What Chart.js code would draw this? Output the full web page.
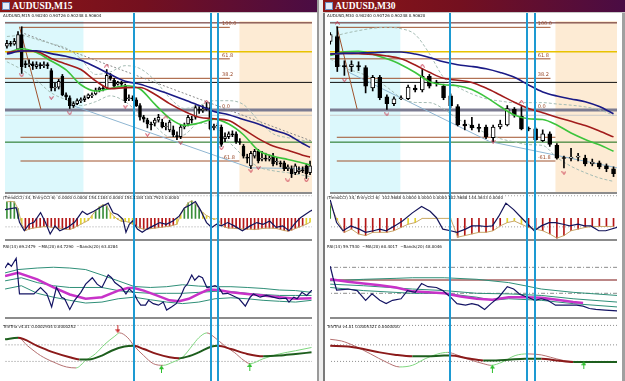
<!DOCTYPE html>
<html>
<head>
<meta charset="utf-8">
<title>AUDUSD M15 / M30</title>
<script src="https://cdn.jsdelivr.net/npm/chart.js@4.4.1/dist/chart.umd.min.js"></script>
<style>
html,body{margin:0;padding:0;width:625px;height:381px;overflow:hidden;background:#fff;}
.tb{position:absolute;top:0;height:12px;background:linear-gradient(90deg,#8c1616 0%,#74101f 45%,#4a0c44 100%);border-bottom:1px solid #c8c8c8;}
.tb span{position:absolute;left:12px;top:0px;color:#fff;font:bold 9.5px "Liberation Serif","DejaVu Serif",serif;line-height:12px;}
.ico{position:absolute;left:2px;top:2px;width:6px;height:6px;background:#e4ecf8;border:1px solid #6d8fc4;}
.hdr{position:absolute;font:4px "DejaVu Sans",sans-serif;color:#111;white-space:nowrap;line-height:5px;}
canvas{position:absolute;}
</style>
</head>
<body>
<div class="tb" style="left:0;width:318px"><div class="ico"></div><span>AUDUSD,M15</span></div>
<div class="tb" style="left:323px;width:302px"><div class="ico"></div><span>AUDUSD,M30</span></div>
<canvas id="cL" width="317" height="368" style="left:0;top:13px"></canvas>
<canvas id="cR" width="297" height="368" style="left:325px;top:13px"></canvas>
<div style="position:absolute;left:317px;top:0;width:2px;height:381px;background:#9a9a9a"></div>
<div style="position:absolute;left:319px;top:0;width:4px;height:381px;background:#eeeeee"></div>
<div style="position:absolute;left:323px;top:13px;width:2px;height:368px;background:#7a7a7a"></div>
<div style="position:absolute;left:622px;top:13px;width:3px;height:368px;background:#a0a0a0"></div>

<div class="hdr" style="left:3px;top:13px">AUDUSD,M15 0.90240 0.90726 0.90248 0.90604</div>
<div class="hdr" style="left:3px;top:195px">(TrendCCI) 34, EntryCCI 6)&nbsp; 0.0000 0.0000 154.1184 0.0000 154.1184 183.7924 0.0000</div>
<div class="hdr" style="left:3px;top:244px">RSI(14) 69.2479 &nbsp;~MA(20) 64.7290 &nbsp;~Bands(20) 63.0284</div>
<div class="hdr" style="left:3px;top:324px">TriVTrix v4.01 0.0002934 0.0000252</div>
<div class="hdr" style="left:327px;top:13px">AUDUSD,M30 0.90240 0.90726 0.90248 0.90620</div>
<div class="hdr" style="left:327px;top:195px">(TrendCCI) 34, EntryCCI 6)&nbsp; 102.5688 0.0000 0.0000 0.0000 102.5688 144.3633 0.0000</div>
<div class="hdr" style="left:327px;top:244px">RSI(14) 59.7530 &nbsp;~MA(20) 60.4017 &nbsp;~Bands(20) 48.0046</div>
<div class="hdr" style="left:327px;top:324px">TriVTrix v4.01 0.0005321 0.0000000</div>

<script>
// ================= DATA =================
// ---- M15 candles ----
const m15Open = [0.90790,0.90805,0.90800,0.90775,0.90850,0.90700,0.90695,0.90700,0.90685,0.90695,
0.90690,0.90695,0.90665,0.90575,0.90580,0.90635,0.90540,0.90525,0.90485,0.90495,
0.90510,0.90515,0.90525,0.90535,0.90545,0.90565,0.90575,0.90575,0.90635,0.90615,
0.90595,0.90600,0.90585,0.90520,0.90525,0.90515,0.90485,0.90425,0.90410,0.90390,
0.90395,0.90410,0.90400,0.90375,0.90360,0.90360,0.90330,0.90325,0.90375,0.90390,
0.90415,0.90425,0.90465,0.90460,0.90465,0.90475,0.90370,0.90380,0.90375,0.90315,
0.90325,0.90340,0.90340,0.90300,0.90275,0.90220,0.90175,0.90225,0.90250,0.90210,
0.90215,0.90210,0.90225,0.90195,0.90190,0.90190,0.90160,0.90160,0.90140,0.90145,
0.90155,0.90175,0.90140];
const m15Close = [0.90805,0.90800,0.90815,0.90850,0.90685,0.90695,0.90700,0.90690,0.90695,0.90690,
0.90695,0.90690,0.90575,0.90580,0.90610,0.90540,0.90530,0.90485,0.90495,0.90510,
0.90515,0.90525,0.90540,0.90540,0.90565,0.90575,0.90570,0.90640,0.90625,0.90585,
0.90600,0.90595,0.90510,0.90525,0.90520,0.90485,0.90425,0.90415,0.90390,0.90385,
0.90410,0.90425,0.90375,0.90380,0.90400,0.90335,0.90325,0.90375,0.90380,0.90425,
0.90410,0.90475,0.90460,0.90465,0.90475,0.90365,0.90380,0.90385,0.90285,0.90325,
0.90340,0.90335,0.90300,0.90295,0.90225,0.90215,0.90240,0.90250,0.90200,0.90215,
0.90210,0.90215,0.90185,0.90200,0.90185,0.90160,0.90170,0.90135,0.90175,0.90155,
0.90150,0.90135,0.90175];
const m15High = [0.90820,0.90815,0.90830,0.90865,0.90890,0.90715,0.90720,0.90710,0.90710,0.90705,
0.90710,0.90705,0.90675,0.90600,0.90620,0.90645,0.90550,0.90535,0.90505,0.90520,
0.90525,0.90535,0.90545,0.90550,0.90575,0.90580,0.90585,0.90670,0.90650,0.90625,
0.90610,0.90610,0.90595,0.90540,0.90535,0.90525,0.90495,0.90435,0.90420,0.90400,
0.90420,0.90440,0.90415,0.90395,0.90410,0.90380,0.90350,0.90385,0.90395,0.90435,
0.90430,0.90485,0.90480,0.90485,0.90500,0.90500,0.90390,0.90395,0.90385,0.90345,
0.90350,0.90355,0.90350,0.90315,0.90285,0.90235,0.90250,0.90260,0.90260,0.90250,
0.90240,0.90230,0.90240,0.90215,0.90200,0.90200,0.90180,0.90175,0.90185,0.90170,
0.90170,0.90185,0.90200];
const m15Low = [0.90780,0.90790,0.90795,0.90770,0.90650,0.90680,0.90685,0.90670,0.90675,0.90675,
0.90680,0.90675,0.90560,0.90560,0.90570,0.90535,0.90515,0.90470,0.90475,0.90490,
0.90500,0.90505,0.90520,0.90525,0.90540,0.90555,0.90560,0.90570,0.90615,0.90575,
0.90590,0.90585,0.90500,0.90510,0.90510,0.90480,0.90410,0.90400,0.90370,0.90360,
0.90380,0.90400,0.90370,0.90360,0.90350,0.90325,0.90310,0.90315,0.90365,0.90380,
0.90395,0.90415,0.90445,0.90450,0.90460,0.90360,0.90360,0.90365,0.90275,0.90300,
0.90315,0.90325,0.90290,0.90285,0.90215,0.90190,0.90160,0.90215,0.90190,0.90200,
0.90200,0.90200,0.90175,0.90180,0.90170,0.90150,0.90150,0.90115,0.90130,0.90135,
0.90140,0.90110,0.90130];

// ---- M30 candles ----
const m30Open = [0.90815,0.90840,0.90690,0.90685,0.90690,0.90680,0.90575,0.90630,0.90530,0.90495,
0.90520,0.90520,0.90575,0.90565,0.90635,0.90600,0.90585,0.90535,0.90480,0.90390,
0.90385,0.90370,0.90375,0.90320,0.90375,0.90385,0.90465,0.90430,0.90365,0.90365,
0.90305,0.90340,0.90280,0.90215,0.90215,0.90220,0.90215,0.90185,0.90190,0.90175,0.90160];
const m30Close = [0.90850,0.90685,0.90685,0.90695,0.90683,0.90585,0.90630,0.90525,0.90495,0.90520,
0.90523,0.90580,0.90565,0.90635,0.90585,0.90598,0.90525,0.90485,0.90385,0.90380,
0.90370,0.90368,0.90325,0.90375,0.90390,0.90470,0.90435,0.90365,0.90363,0.90310,
0.90340,0.90285,0.90215,0.90213,0.90218,0.90223,0.90185,0.90195,0.90170,0.90160,0.90135];
const m30High = [0.90860,0.90890,0.90715,0.90715,0.90710,0.90690,0.90640,0.90640,0.90540,0.90530,
0.90535,0.90590,0.90590,0.90675,0.90645,0.90615,0.90595,0.90545,0.90490,0.90410,
0.90425,0.90390,0.90385,0.90385,0.90410,0.90485,0.90475,0.90480,0.90375,0.90370,
0.90360,0.90350,0.90290,0.90225,0.90265,0.90240,0.90230,0.90210,0.90200,0.90185,0.90170];
const m30Low = [0.90800,0.90660,0.90640,0.90660,0.90665,0.90550,0.90560,0.90515,0.90465,0.90485,
0.90515,0.90515,0.90555,0.90555,0.90575,0.90585,0.90515,0.90475,0.90380,0.90360,
0.90360,0.90350,0.90315,0.90300,0.90365,0.90380,0.90425,0.90360,0.90355,0.90305,
0.90300,0.90275,0.90210,0.90165,0.90200,0.90200,0.90175,0.90175,0.90160,0.90145,0.90120];

// ---- moving averages / envelopes (bar index, price) ----
const m15MaIdx = [0,4,8,12,16,20,24,28,32,36,40,44,48,52,56,60,64,68,72,76,80,82];
const m15MaBlue = [0.90750,0.90765,0.90767,0.90752,0.90738,0.90718,0.90683,0.90645,0.90610,0.90595,0.90570,0.90543,0.90515,0.90485,0.90455,0.90438,0.90413,0.90390,0.90360,0.90335,0.90290,0.90270];
const m15MaRed = [0.90758,0.90767,0.90763,0.90727,0.90698,0.90670,0.90612,0.90572,0.90577,0.90578,0.90543,0.90495,0.90455,0.90425,0.90417,0.90408,0.90363,0.90315,0.90277,0.90255,0.90230,0.90220];
const m15MaGreen = [0.90755,0.90777,0.90758,0.90714,0.90668,0.90592,0.90560,0.90573,0.90587,0.90570,0.90492,0.90420,0.90383,0.90395,0.90415,0.90390,0.90335,0.90255,0.90225,0.90208,0.90190,0.90180];
const m15BbIdx = [0,4,8,12,16,20,24,28,32,36,40,44,48,52,56,60,64,68,72,76,82];
const m15BbUpper = [0.90840,0.90845,0.90825,0.90803,0.90780,0.90725,0.90645,0.90658,0.90690,0.90675,0.90615,0.90525,0.90470,0.90485,0.90510,0.90510,0.90490,0.90410,0.90340,0.90320,0.90300];
const m15BbLower = [0.90710,0.90670,0.90615,0.90550,0.90515,0.90485,0.90505,0.90535,0.90505,0.90440,0.90380,0.90325,0.90335,0.90395,0.90380,0.90300,0.90225,0.90170,0.90150,0.90140,0.90120];

const m30MaIdx = [0,2,4,6,8,10,12,14,16,18,20,22,24,26,28,30,32,34,36,38,40];
const m30MaBlue = [0.90750,0.90753,0.90755,0.90757,0.90760,0.90760,0.90750,0.90732,0.90710,0.90695,0.90686,0.90674,0.90655,0.90630,0.90591,0.90555,0.90534,0.90519,0.90505,0.90480,0.90443];
const m30MaRed = [0.90750,0.90753,0.90751,0.90748,0.90740,0.90725,0.90693,0.90656,0.90625,0.90615,0.90604,0.90575,0.90539,0.90502,0.90470,0.90448,0.90425,0.90404,0.90382,0.90354,0.90324];
const m30MaGreen = [0.90742,0.90761,0.90764,0.90749,0.90725,0.90695,0.90655,0.90608,0.90592,0.90587,0.90567,0.90528,0.90480,0.90436,0.90417,0.90413,0.90385,0.90344,0.90311,0.90283,0.90250];
const m30BbUpper = [0.90835,0.90855,0.90870,0.90882,0.90887,0.90880,0.90850,0.90752,0.90630,0.90580,0.90545,0.90520,0.90508,0.90500,0.90500,0.90500,0.90493,0.90487,0.90478,0.90463,0.90435];
const m30BbLower = [0.90725,0.90678,0.90655,0.90625,0.90580,0.90525,0.90501,0.90500,0.90468,0.90417,0.90380,0.90343,0.90315,0.90298,0.90284,0.90280,0.90218,0.90173,0.90140,0.90113,0.90095];

// ---- trend lines [bar index, price] ----
const m15TrendBrown = [[3.4,0.90890],[9.2,0.90465]];
const m15TrendBlue = [[17,0.90490],[65.8,0.90165],[82.6,0.90160]];
const m15TrendDotted = [[4.7,0.90855],[82.8,0.90300]];
const m30TrendBrown = [[0.93,0.90892],[3.8,0.90467]];
const m30TrendBlue = [[2.4,0.90660],[22.5,0.90300],[40.5,0.90165]];

// ---- fractal markers [bar index, price] ----
const m15Downs = [[4,0.90640],[12,0.90525],[17,0.90445],[32,0.90480],[38,0.90335],[47,0.90295],[58,0.90265],[66,0.90150],[68,0.90165],[76,0.90100],[81,0.90100]];
const m15Ups = [[27,0.90690],[43,0.90425],[54,0.90505]];
const m30Downs = [[2,0.90615],[8,0.90440],[23,0.90300],[33,0.90140]];
const m30Ups = [[1,0.90910],[13,0.90690],[27,0.90505]];

// ---- horizontal levels ----
const fibLevels = [0.90887,0.90725,0.90625,0.90462,0.90200];
const fibLabels = ['100.0','61.8','38.2','0.0','-61.8'];
const guideLevels = [0.90910,0.90762,0.90604,0.90435,0.90322,0.90297];

// ---- time markers (bar index) ----
const m15VLines = [34.3,55.3,57.1];
const m30VLines = [16.9,27.8,28.9];
const m15Sessions = [[-2,20.7],[62.9,90]];
const m30Sessions = [[-2,9.9],[31.8,45]];

// ---- TrendCCI ----
const cciLevels = [233,-87];
const m15CciHist = [170,175,170,100,-60,-125,-110,-100,-95,-90,
-85,-85,-90,-95,-100,-105,-110,-115,-100,-80,
-60,-40,-20,30,80,120,140,130,60,20,
-10,-30,-30,-40,-60,-80,-100,-110,-110,-105,
-100,-95,-90,-85,-80,-70,-60,40,100,160,
180,150,100,60,30,10,-10,0,-70,-90,
-100,-100,-105,-105,-110,-110,-110,-115,-110,-105,
-100,-100,-100,-105,-115,-125,-130,-120,-105,-90,
-75,-60,-40];
const m15CciLine = [[-0.5,90],[2.5,110],[3.4,-40],[4.7,-127],[6,-60],[7.3,-40],[9.1,60],[10.4,-40],[11.7,-160],[13,-77],[14.3,-127],[16.5,-90],[18.3,-40],[20.4,73],[21.7,40],[23.5,73],[25.7,123],[27.4,157],[28.7,57],[30,40],[31.4,-10],[32.2,-143],[33.1,-60],[34,-27],[35.3,-110],[36.6,-143],[37.9,-110],[39.6,-77],[41.4,-43],[43.1,-60],[44.9,-27],[46.6,23],[48,107],[49.7,140],[51,173],[52.3,90],[54,-43],[55.4,-93],[56.7,-60],[58,-77],[59.7,-43],[61.5,-77],[63.7,-127],[65.8,-77],[67.6,-43],[69.3,-60],[71.1,-27],[72.8,-93],[74.6,-77],[76.3,-127],[78.1,-43],[79.4,7],[80.7,40],[82,73],[82.8,90]];
const m30CciHist = [150,-20,-143,-110,-160,-177,-143,-143,-143,-127,
-93,-60,-43,0,0,0,0,0,-193,-177,
-160,-143,-143,-127,-77,-43,-27,-60,-93,-110,
-127,-160,-203,-177,-127,-110,-93,-83,-83,-83,-83];
const m30CciLine = [[0,190],[0.9,-43],[1.8,-127],[2.9,-77],[4.1,-110],[5,-143],[6.1,-127],[7,-110],[7.9,-127],[9.1,-77],[10.2,-27],[11.6,57],[12.9,123],[14.1,73],[15,7],[15.9,-110],[17,-127],[17.9,-143],[19.1,-110],[20,-77],[21.1,-77],[22,-83],[22.9,-77],[23.8,23],[24.8,157],[25.9,90],[27,7],[27.9,-60],[28.8,-127],[29.8,-77],[30.9,-43],[31.8,-43],[32.9,-60],[33.8,-77],[35,-60],[35.9,-77],[36.8,-77],[37.9,-127],[38.9,-127],[40.5,-93]];

// ---- RSI ----
const m15Rsi = [[-0.5,85.5],[0.3,88],[1.2,86.4],[2.5,90.5],[3.4,72.2],[7.3,72.2],[9.1,75.5],[10.8,72.2],[12.1,65.5],[13.4,75.5],[14.8,70.5],[15.6,69.7],[17,64.2],[18.3,68.9],[20,73],[21.3,77.2],[23.1,80.5],[24.4,77.2],[25.7,75.5],[27.4,81.9],[28.3,80.5],[29.2,78],[31,75.5],[32.2,72.2],[33.1,74.7],[34.4,72.5],[35.3,68.9],[36.2,66.4],[37.5,66.4],[38.3,68.9],[39.6,67.2],[41,66.4],[42.3,68],[43.2,63.9],[44.5,65.5],[45.8,67.2],[47.1,71.4],[48,75.5],[48.8,77.2],[50,81.9],[50.8,79.2],[51.9,81.4],[52.9,80.5],[54.1,75.5],[55.4,75.9],[56.3,76.4],[57.3,75.5],[58.4,72.2],[59.7,72.5],[61,71.4],[62.8,69.7],[64.5,65.9],[65.8,70.5],[66.7,72.2],[68.5,70.5],[70.2,71.4],[72,70.5],[73.7,69.7],[75.5,70],[76.3,68],[77.6,70.5],[78.5,69.7],[79.8,73],[81.1,71.4],[82.4,73.9],[83.3,74.7]];
const m15RsiMa = [[-0.5,81.4],[3,83],[8.2,79.7],[12.6,75.5],[17,71.9],[21.3,69.7],[25.7,70.5],[30.1,73.9],[32.7,75.2],[34.4,75.2],[37,73.9],[40.5,71.4],[44,68.9],[46.6,68.4],[49.2,69.7],[51.9,72.2],[54.5,74.4],[57.1,74.2],[60.6,73],[65,72.2],[69.3,71.4],[73.7,70.5],[78.1,69.7],[82.4,70]];
const m15BandUp = [[-0.5,83],[3,84.7],[8.2,85.5],[12.6,85.9],[17,85.5],[21.3,84.7],[25.7,81.9],[30.1,78.9],[34.4,76],[38.8,75.5],[43.2,75.9],[47.5,76.9],[51.9,76.2],[56.3,75.9],[60.6,75.9],[65,75.5],[69.3,75],[73.7,74.2],[78.1,73.9],[82.4,73]];
const m15BandMid = [[-0.5,78.9],[3.9,80.5],[8.2,78],[12.6,76.4],[17,75.5],[21.3,75.5],[25.7,75.5],[30.1,73.9],[34.4,73],[38.8,72.5],[43.2,72.5],[47.5,72.5],[51.9,73],[56.3,73.5],[60.6,73.4],[65,72.5],[69.3,71.9],[73.7,71.4],[78.1,71.4],[82.4,71.4]];
const m15BandLo = [[-0.5,74.7],[3.9,76.4],[8.2,72.5],[12.6,70.5],[17,68.9],[21.3,67.5],[25.7,68],[30.1,69.7],[34.4,70.5],[38.8,69.2],[43.2,68],[47.5,67.2],[51.9,68],[56.3,69.7],[60.6,70.2],[65,69.7],[69.3,68.9],[73.7,68.4],[78.1,68],[82.4,68.9]];
const m30Rsi = [[0,86.4],[0.4,80.5],[0.9,74.2],[2.5,74.7],[3.8,73.9],[5,68.9],[5.9,72.2],[7,68.9],[7.9,67.2],[8.8,68.9],[10,69.7],[10.9,73.9],[12,73],[12.9,77.5],[13.8,75.9],[15,75.5],[15.9,73.9],[17,70.5],[17.9,67.2],[19.1,66.4],[20,67.2],[20.9,66.4],[21.8,64.2],[22.7,67.2],[23.8,70.5],[25,75.9],[25.9,74.7],[26.8,71.9],[27.9,70.5],[28.9,68.9],[29.8,69.7],[30.7,68.9],[31.8,66.4],[32.9,66.4],[33.8,66.4],[34.8,66.4],[35.7,65.9],[36.6,64.7],[37.5,64.2],[38.8,63.9],[40.5,63.5]];
const m30RsiMa = [[0,79.7],[2.5,78.4],[4.7,77.5],[7,76.7],[9.3,75.5],[11.6,73.5],[13.8,73],[16.1,72.5],[18.4,70.9],[20.7,69.7],[22.9,69.2],[25.2,70.5],[27.5,70.5],[29.8,70.2],[32,69.2],[34.3,68],[35.7,67.5]];
const m30BandUp = [[0,78.9],[4.7,79.7],[9.3,80.2],[11.6,80.5],[16.1,80.5],[20.7,79.7],[25.2,78],[27.5,76.4],[29.8,74.7],[34.3,73],[40.5,71.4]];
const m30BandMid = [[0,77.2],[4.7,76.4],[11.6,74.7],[16.1,73.9],[20.7,72.5],[25.2,72.2],[29.8,71.4],[34.3,69.7],[40.5,68]];
const m30BandLo = [[0,75.5],[4.7,73.9],[11.6,72.5],[16.1,72.5],[20.7,70.5],[22.9,68.9],[25.2,69.7],[29.8,68.9],[34.3,67.2],[40.5,65.5]];
const m30RsiLevels = [85.85,72.5];
const m30RsiMidLevel = [79.35];

// ---- TriVTrix (points) ----
const trixLevels = [21,1,-16];
const m15TrixSignal = [[-0.5,6.7],[3,8.3],[8.2,0],[12.6,-6.7],[17,-11.7],[19.6,-14],[22.2,-14],[25.7,-10],[28.3,-5],[31.8,-0.7],[34.4,0],[37,-3.3],[40.5,-8.3],[44,-11.7],[46.6,-12.7],[49.2,-10.7],[51.9,-6.7],[55.4,-0.7],[57.1,0],[60.6,-3.3],[65,-8.3],[69.3,-10.7],[73.7,-10],[78.1,-8.3],[82.4,-6.7]];
const m15TrixFast = [[-0.5,6.7],[3,8.3],[5.6,0],[9.1,-10],[12.6,-16.7],[16.1,-21.7],[18.7,-22.7],[21.3,-15],[23.9,-8.3],[26.5,1.7],[29.2,10],[30.5,13.3],[32.7,8.3],[34.4,0],[37,-10],[39.6,-18.3],[42.3,-20],[44.9,-16.7],[47.5,-11.7],[50.1,0],[51.9,8.3],[54.1,13.3],[56.3,8.3],[58.9,0],[61.5,-6.7],[64.1,-15],[65.8,-18.3],[69.3,-13.3],[73.7,-8.3],[78.1,-5],[82.4,-1.7]];
const m15TrixDown = [[30,17]];
const m15TrixUp = [[41.8,-24],[65.7,-21.7]];
const m30TrixSignal = [[0,0],[2.5,-0.7],[4.7,-3.3],[7,-6.7],[9.3,-9.3],[11.6,-10.7],[13.8,-10.7],[16.1,-10],[17,-10],[19.3,-12.7],[21.6,-15],[23.4,-15],[25.2,-14.3],[27.5,-13.3],[29.8,-13.3],[32,-15],[34.3,-16.7],[36.6,-16.7],[40.5,-16.7]];
const m30TrixFast = [[0,6.7],[1.6,5],[3.4,0],[5.7,-8.3],[7.9,-16.7],[9.8,-21.7],[11.6,-20],[13.4,-13.3],[15.2,-8.3],[16.6,-6.7],[17.5,-8.3],[19.3,-13.3],[21.6,-18.3],[22.7,-20],[24.3,-16.7],[26.1,-10],[27.9,-8.3],[29.8,-9.3],[31.1,-11.7],[32.9,-15],[34.3,-16],[35.7,-16.7],[37,-16.7],[40.5,-16.7]];
const m30TrixDown = [];
const m30TrixUp = [[22.9,-23.3],[35.8,-20]];

// ================= RENDERING =================
function P(arr){ return arr.map(p => ({x:p[0], y:p[1]})); }
function Z(idx, vals){ return idx.map((x,i) => ({x:x, y:vals[i]})); }

function mk(shape, color){
  const c = document.createElement('canvas');
  if (shape === 'v' || shape === '^') { c.width = 5; c.height = 4; }
  else { c.width = 5; c.height = 8; }
  const g = c.getContext('2d');
  g.strokeStyle = color; g.fillStyle = color; g.lineWidth = 1;
  g.beginPath();
  if (shape === 'v') { g.moveTo(0.5,0.5); g.lineTo(2.5,3.5); g.lineTo(4.5,0.5); g.stroke(); }
  else if (shape === '^') { g.moveTo(0.5,3.5); g.lineTo(2.5,0.5); g.lineTo(4.5,3.5); g.stroke(); }
  else if (shape === 'down') { g.moveTo(2.5,0); g.lineTo(2.5,6); g.stroke(); g.beginPath(); g.moveTo(0,4); g.lineTo(5,4); g.lineTo(2.5,8); g.fill(); }
  else { g.moveTo(2.5,8); g.lineTo(2.5,2); g.stroke(); g.beginPath(); g.moveTo(0,4); g.lineTo(5,4); g.lineTo(2.5,0); g.fill(); }
  return c;
}
const MK_DOWN = mk('v', '#c8304a'), MK_UP = mk('^', '#c8304a');
const AR_DOWN = mk('down', '#c83030'), AR_UP = mk('up', '#2fbf2f');

const mt4Plugin = {
  id: 'mt4',
  beforeDatasetsDraw(chart, args, o){
    const ctx = chart.ctx, x = chart.scales.x, y = chart.scales.yMain;
    ctx.save();
    o.sessions.forEach((s, k) => {
      const x0 = Math.max(x.getPixelForValue(s[0]), chart.chartArea.left);
      const x1 = Math.min(x.getPixelForValue(s[1]), chart.chartArea.right);
      ctx.fillStyle = o.sessionColors[k];
      ctx.fillRect(x0, y.top + 3, x1 - x0, y.bottom - y.top - 3);
    });
    ctx.restore();
  },
  afterDraw(chart, args, o){
    const ctx = chart.ctx, x = chart.scales.x, y = chart.scales.yMain, a = chart.chartArea;
    ctx.save();
    ctx.font = '5px "DejaVu Sans", sans-serif';
    ctx.fillStyle = '#9a4a2a';
    ctx.textBaseline = 'bottom';
    fibLevels.forEach((lv, k) => {
      ctx.fillText(fibLabels[k], x.getPixelForValue(o.fibLabelX), y.getPixelForValue(lv) - 1);
    });
    ctx.fillStyle = '#8c8c8c';
    ['yMain','yCci','yRsi'].forEach(id => {
      const s = chart.scales[id];
      ctx.fillRect(a.left, Math.round(s.bottom) - 1, a.right - a.left, 2);
    });
    ctx.strokeStyle = '#1d9ad2';
    ctx.lineWidth = 2;
    o.vlines.forEach(v => {
      const px = Math.round(x.getPixelForValue(v));
      ctx.beginPath(); ctx.moveTo(px, 0); ctx.lineTo(px, chart.height); ctx.stroke();
    });
    ctx.restore();
  }
};

function build(S){
  const ds = [];
  const line = (data, yAxisID, color, w, extra) => Object.assign({
    type:'line', data:data, yAxisID:yAxisID, borderColor:color, borderWidth:w,
    pointRadius:0, fill:false, tension:0
  }, extra || {});
  const full = S.full;
  const gSpan = [full, full, full, full, S.brown2Span, full];
  const gStyle = [['#5a1a1a',1],['#e8c200',1.5],['#101010',1],['#c8c8c8',1],['#a0522d',1],['#126a12',1]];
  guideLevels.forEach((lv, k) => ds.push(line([{x:gSpan[k][0],y:lv},{x:gSpan[k][1],y:lv}], 'yMain', gStyle[k][0], gStyle[k][1], {order:20})));
  const fStyle = [['#a0522d',1],['#a0522d',1],['#a0522d',1],['#7c7c92',3],['#a0522d',1]];
  fibLevels.forEach((lv, k) => ds.push(line([{x:S.fibSpan[k][0],y:lv},{x:S.fibSpan[k][1],y:lv}], 'yMain', fStyle[k][0], fStyle[k][1], {order:19})));
  S.trends.forEach(t => ds.push(line(P(t.pts), 'yMain', t.color, 1, {order:15, borderDash:t.dash || []})));
  ds.push(line(Z(S.bbIdx, S.bbUp), 'yMain', '#a4bcb4', 1, {order:14, borderDash:[3,2], cubicInterpolationMode:'monotone'}));
  ds.push(line(Z(S.bbIdx, S.bbLo), 'yMain', '#a4bcb4', 1, {order:14, borderDash:[3,2], cubicInterpolationMode:'monotone'}));
  const wick = [], body = [];
  for (let i = 0; i < S.open.length; i++){
    wick.push({x:i, y:[S.low[i], S.high[i]]});
    body.push({x:i, y:[S.open[i], S.close[i]], up: S.close[i] >= S.open[i]});
  }
  ds.push({type:'bar', data:wick, yAxisID:'yMain', backgroundColor:'#000', barThickness:1, grouped:false, order:6});
  ds.push({type:'bar', data:body, yAxisID:'yMain', backgroundColor: c => (c.raw && c.raw.up) ? '#ffffff' : '#000000',
    borderColor:'#000', borderWidth:1, borderSkipped:false, barThickness:S.bodyW, grouped:false, minBarLength:1, order:5});
  ds.push(line(Z(S.maIdx, S.maBlue), 'yMain', '#1a1a86', 1.6, {order:2, cubicInterpolationMode:'monotone'}));
  ds.push(line(Z(S.maIdx, S.maRed), 'yMain', '#a21c1c', 1.6, {order:2, cubicInterpolationMode:'monotone'}));
  ds.push(line(Z(S.maIdx, S.maGreen), 'yMain', '#3cc43c', 1.6, {order:2, cubicInterpolationMode:'monotone'}));
  ds.push({type:'line', showLine:false, data:P(S.downs), yAxisID:'yMain', pointStyle:MK_DOWN, pointRadius:3, order:1});
  ds.push({type:'line', showLine:false, data:P(S.ups), yAxisID:'yMain', pointStyle:MK_UP, pointRadius:3, order:1});

  cciLevels.forEach(lv => ds.push(line([{x:full[0],y:lv},{x:full[1],y:lv}], 'yCci', '#a0a0a0', 1, {borderDash:[1,2], order:9})));
  ds.push({type:'bar', data:S.cciHist.map((v,i) => ({x:i, y:v})), yAxisID:'yCci', barThickness:1, grouped:false, order:8,
    backgroundColor: c => { const v = c.raw ? c.raw.y : 0; return v > 60 ? '#3a8e3a' : (v < -60 ? '#b41616' : '#e2d22a'); }});
  ds.push(line(S.cciHist.map((v,i) => ({x:i, y:v})), 'yCci', '#c9a86a', 1, {order:7}));
  ds.push(line(P(S.cciLine), 'yCci', '#14145a', 1.2, {order:3}));

  if (S.rsiLevels){
    S.rsiLevels.forEach(lv => ds.push(line([{x:full[0],y:lv},{x:full[1],y:lv}], 'yRsi', '#8c8c8c', 1, {borderDash:[4,2,1,2], order:9})));
    S.rsiMid.forEach(lv => ds.push(line([{x:full[0],y:lv},{x:full[1],y:lv}], 'yRsi', '#7a1010', 1.2, {order:9})));
  }
  S.bands.forEach(b => ds.push(line(P(b), 'yRsi', '#2f8f78', 1, {order:6})));
  ds.push(line(P(S.rsiMa), 'yRsi', '#c832c8', 2.5, {order:4}));
  ds.push(line(P(S.rsi), 'yRsi', '#141464', 1.2, {order:3}));

  trixLevels.forEach(lv => ds.push(line([{x:full[0],y:lv},{x:full[1],y:lv}], 'yTrix', '#8c8c8c', 1, {borderDash:[1,2], order:9})));
  ds.push(line(P(S.trixFast), 'yTrix', '#b07070', 1, {order:5, cubicInterpolationMode:'monotone',
    segment:{borderColor: c => c.p1.parsed.y >= c.p0.parsed.y ? '#7ed67e' : '#b47070'}}));
  ds.push(line(P(S.trixSignal), 'yTrix', '#8b1a1a', 2, {order:4, cubicInterpolationMode:'monotone',
    segment:{borderColor: c => c.p1.parsed.y >= c.p0.parsed.y ? '#1d5e1d' : '#8b1a1a'}}));
  ds.push({type:'line', showLine:false, data:P(S.trixDown), yAxisID:'yTrix', pointStyle:AR_DOWN, pointRadius:3, order:1});
  ds.push({type:'line', showLine:false, data:P(S.trixUp), yAxisID:'yTrix', pointStyle:AR_UP, pointRadius:3, order:1});

  const hidden = {display:false, grid:{display:false}};
  return new Chart(document.getElementById(S.canvas), {
    type:'line',
    data:{datasets:ds},
    options:{
      responsive:false, animation:false, events:[],
      layout:{padding:0},
      plugins:{legend:{display:false}, tooltip:{enabled:false},
        mt4:{sessions:S.sessions, sessionColors:['#dcf8fc','#fdebd4'], vlines:S.vlines, fibLabelX:S.fibLabelX}},
      scales:{
        x:Object.assign({type:'linear', min:S.xmin, max:S.xmax, offset:false}, hidden),
        yMain:Object.assign({type:'linear', position:'right', stack:'pane', stackWeight:180, weight:1, min:0.90035, max:0.90935, offset:false}, hidden),
        yCci:Object.assign({type:'linear', position:'right', stack:'pane', stackWeight:48, weight:2, min:-220, max:260, offset:false}, hidden),
        yRsi:Object.assign({type:'linear', position:'right', stack:'pane', stackWeight:80, weight:3, min:60, max:100, offset:false}, hidden),
        yTrix:Object.assign({type:'linear', position:'right', stack:'pane', stackWeight:60, weight:4, min:-31, max:29, offset:false}, hidden)
      }
    },
    plugins:[mt4Plugin]
  });
}

build({
  canvas:'cL', open:m15Open, high:m15High, low:m15Low, close:m15Close,
  xmin:-0.52, xmax:82.53, bodyW:3, full:[-2,90],
  brown2Span:[3.67,58.4],
  fibSpan:[[3.67,60.3],[-2,60.3],[-2,60.3],[-2,90],[3.67,62.9]], fibLabelX:58.2,
  maIdx:m15MaIdx, maBlue:m15MaBlue, maRed:m15MaRed, maGreen:m15MaGreen,
  bbIdx:m15BbIdx, bbUp:m15BbUpper, bbLo:m15BbLower,
  trends:[{pts:m15TrendBrown, color:'#a0522d'},{pts:m15TrendBlue, color:'#8fb6d2'},{pts:m15TrendDotted, color:'#8a8a8a', dash:[2,2]}],
  downs:m15Downs, ups:m15Ups, sessions:m15Sessions, vlines:m15VLines,
  cciHist:m15CciHist, cciLine:m15CciLine,
  rsi:m15Rsi, rsiMa:m15RsiMa, bands:[m15BandUp, m15BandMid, m15BandLo], rsiLevels:null, rsiMid:[],
  trixSignal:m15TrixSignal, trixFast:m15TrixFast, trixDown:m15TrixDown, trixUp:m15TrixUp
});
build({
  canvas:'cR', open:m30Open, high:m30High, low:m30Low, close:m30Close,
  xmin:-0.03, xmax:40.49, bodyW:4, full:[-2,45],
  brown2Span:[0.93,31.8],
  fibSpan:[[0.93,31.1],[-2,31.1],[-2,31.1],[-2,45],[0.93,31.8]], fibLabelX:29.3,
  maIdx:m30MaIdx, maBlue:m30MaBlue, maRed:m30MaRed, maGreen:m30MaGreen,
  bbIdx:m30MaIdx, bbUp:m30BbUpper, bbLo:m30BbLower,
  trends:[{pts:m30TrendBrown, color:'#a0522d'},{pts:m30TrendBlue, color:'#8fb6d2'}],
  downs:m30Downs, ups:m30Ups, sessions:m30Sessions, vlines:m30VLines,
  cciHist:m30CciHist, cciLine:m30CciLine,
  rsi:m30Rsi, rsiMa:m30RsiMa, bands:[m30BandUp, m30BandMid, m30BandLo], rsiLevels:m30RsiLevels, rsiMid:m30RsiMidLevel,
  trixSignal:m30TrixSignal, trixFast:m30TrixFast, trixDown:m30TrixDown, trixUp:m30TrixUp
});
</script>
</body>
</html>
